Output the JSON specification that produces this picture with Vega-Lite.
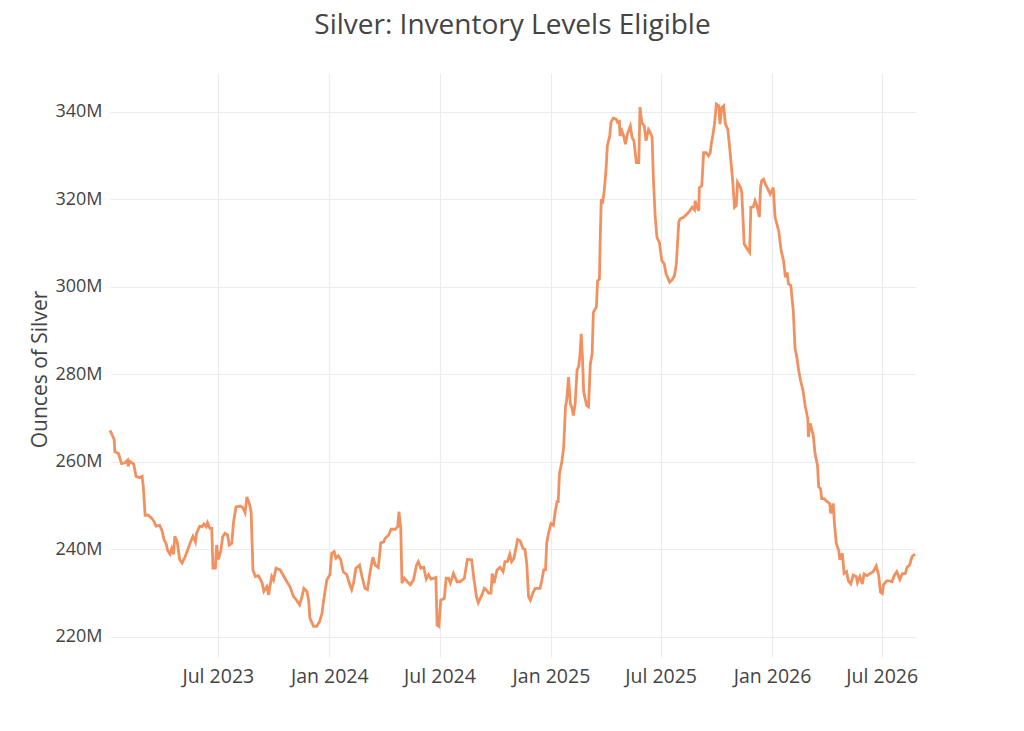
{
 "$schema": "https://vega.github.io/schema/vega-lite/v6.json",
 "width": 805, "height": 584,
 "autosize": {"type": "none"},
 "padding": {"left": 110, "top": 73, "right": 109, "bottom": 74},
 "background": "white",
 "title": {"text": "Silver: Inventory Levels Eligible", "font": "Open Sans", "fontSize": 28, "fontWeight": "normal", "color": "#444444", "anchor": "middle", "baseline": "alphabetic", "offset": 11},
 "config": {"view": {"stroke": null}, "axis": {"labelFont": "Open Sans", "titleFont": "Open Sans", "labelColor": "#444444", "titleColor": "#444444", "gridColor": "#ebecef", "gridWidth": 1.2, "domain": false, "ticks": false}},
 "data": {"values": [
{"date":"2023-01-04","ounces":267200000},{"date":"2023-01-09","ounces":265700000},{"date":"2023-01-11","ounces":265100000},{"date":"2023-01-12","ounces":262300000},{"date":"2023-01-18","ounces":261900000},{"date":"2023-01-23","ounces":259600000},{"date":"2023-01-29","ounces":259800000},{"date":"2023-02-02","ounces":260400000},{"date":"2023-02-03","ounces":259000000},{"date":"2023-02-06","ounces":260100000},{"date":"2023-02-12","ounces":259500000},{"date":"2023-02-16","ounces":256700000},{"date":"2023-02-22","ounces":256400000},{"date":"2023-02-26","ounces":256700000},{"date":"2023-02-28","ounces":254300000},{"date":"2023-03-03","ounces":247800000},{"date":"2023-03-08","ounces":247800000},{"date":"2023-03-14","ounces":247100000},{"date":"2023-03-18","ounces":246300000},{"date":"2023-03-21","ounces":245300000},{"date":"2023-03-27","ounces":245500000},{"date":"2023-03-31","ounces":244200000},{"date":"2023-04-03","ounces":242300000},{"date":"2023-04-07","ounces":241200000},{"date":"2023-04-09","ounces":239800000},{"date":"2023-04-13","ounces":238900000},{"date":"2023-04-16","ounces":240200000},{"date":"2023-04-19","ounces":238900000},{"date":"2023-04-21","ounces":243000000},{"date":"2023-04-25","ounces":241700000},{"date":"2023-04-29","ounces":237700000},{"date":"2023-05-03","ounces":236900000},{"date":"2023-05-08","ounces":238300000},{"date":"2023-05-13","ounces":240200000},{"date":"2023-05-17","ounces":241700000},{"date":"2023-05-21","ounces":243000000},{"date":"2023-05-25","ounces":241700000},{"date":"2023-05-27","ounces":243700000},{"date":"2023-06-01","ounces":245300000},{"date":"2023-06-05","ounces":245200000},{"date":"2023-06-08","ounces":245800000},{"date":"2023-06-12","ounces":245200000},{"date":"2023-06-14","ounces":246100000},{"date":"2023-06-18","ounces":244800000},{"date":"2023-06-21","ounces":244800000},{"date":"2023-06-23","ounces":235700000},{"date":"2023-06-27","ounces":235700000},{"date":"2023-06-29","ounces":241000000},{"date":"2023-07-02","ounces":237700000},{"date":"2023-07-06","ounces":239700000},{"date":"2023-07-09","ounces":242900000},{"date":"2023-07-13","ounces":243700000},{"date":"2023-07-17","ounces":243300000},{"date":"2023-07-20","ounces":241000000},{"date":"2023-07-24","ounces":241400000},{"date":"2023-07-27","ounces":246300000},{"date":"2023-07-31","ounces":249700000},{"date":"2023-08-07","ounces":249900000},{"date":"2023-08-11","ounces":249600000},{"date":"2023-08-15","ounces":248400000},{"date":"2023-08-18","ounces":252000000},{"date":"2023-08-22","ounces":250500000},{"date":"2023-08-25","ounces":248600000},{"date":"2023-08-28","ounces":235300000},{"date":"2023-09-01","ounces":233800000},{"date":"2023-09-06","ounces":234000000},{"date":"2023-09-12","ounces":232400000},{"date":"2023-09-15","ounces":230400000},{"date":"2023-09-20","ounces":231500000},{"date":"2023-09-23","ounces":229600000},{"date":"2023-09-25","ounces":231500000},{"date":"2023-09-28","ounces":233800000},{"date":"2023-10-01","ounces":233000000},{"date":"2023-10-05","ounces":235700000},{"date":"2023-10-12","ounces":235300000},{"date":"2023-10-17","ounces":234100000},{"date":"2023-10-23","ounces":232600000},{"date":"2023-10-28","ounces":231500000},{"date":"2023-11-03","ounces":229200000},{"date":"2023-11-08","ounces":228400000},{"date":"2023-11-13","ounces":227300000},{"date":"2023-11-17","ounces":229200000},{"date":"2023-11-20","ounces":231100000},{"date":"2023-11-25","ounces":230400000},{"date":"2023-11-28","ounces":228400000},{"date":"2023-11-30","ounces":224300000},{"date":"2023-12-06","ounces":222400000},{"date":"2023-12-11","ounces":222400000},{"date":"2023-12-16","ounces":223500000},{"date":"2023-12-20","ounces":225400000},{"date":"2023-12-22","ounces":227700000},{"date":"2023-12-28","ounces":233000000},
{"date":"2024-01-02","ounces":234200000},{"date":"2024-01-05","ounces":239100000},{"date":"2024-01-09","ounces":239500000},{"date":"2024-01-12","ounces":238000000},{"date":"2024-01-16","ounces":238500000},{"date":"2024-01-20","ounces":237600000},{"date":"2024-01-24","ounces":234900000},{"date":"2024-01-30","ounces":234200000},{"date":"2024-02-03","ounces":232300000},{"date":"2024-02-07","ounces":230800000},{"date":"2024-02-10","ounces":232300000},{"date":"2024-02-14","ounces":235700000},{"date":"2024-02-20","ounces":236400000},{"date":"2024-02-24","ounces":233800000},{"date":"2024-02-29","ounces":231100000},{"date":"2024-03-04","ounces":230800000},{"date":"2024-03-09","ounces":235300000},{"date":"2024-03-13","ounces":238200000},{"date":"2024-03-17","ounces":236400000},{"date":"2024-03-22","ounces":235900000},{"date":"2024-03-26","ounces":241500000},{"date":"2024-03-31","ounces":241700000},{"date":"2024-04-02","ounces":242500000},{"date":"2024-04-08","ounces":243300000},{"date":"2024-04-12","ounces":244600000},{"date":"2024-04-19","ounces":244600000},{"date":"2024-04-23","ounces":245200000},{"date":"2024-04-25","ounces":248600000},{"date":"2024-04-28","ounces":244800000},{"date":"2024-04-30","ounces":232300000},{"date":"2024-05-04","ounces":233400000},{"date":"2024-05-09","ounces":232600000},{"date":"2024-05-14","ounces":231900000},{"date":"2024-05-19","ounces":233000000},{"date":"2024-05-24","ounces":236400000},{"date":"2024-05-27","ounces":237200000},{"date":"2024-05-31","ounces":235700000},{"date":"2024-06-05","ounces":235900000},{"date":"2024-06-09","ounces":233200000},{"date":"2024-06-13","ounces":234200000},{"date":"2024-06-17","ounces":233200000},{"date":"2024-06-21","ounces":233400000},{"date":"2024-06-25","ounces":233600000},{"date":"2024-06-27","ounces":222700000},{"date":"2024-06-30","ounces":222400000},{"date":"2024-07-03","ounces":228400000},{"date":"2024-07-09","ounces":228800000},{"date":"2024-07-12","ounces":233400000},{"date":"2024-07-16","ounces":233400000},{"date":"2024-07-19","ounces":232300000},{"date":"2024-07-24","ounces":234500000},{"date":"2024-07-30","ounces":232600000},{"date":"2024-08-04","ounces":232600000},{"date":"2024-08-11","ounces":233400000},{"date":"2024-08-16","ounces":237700000},{"date":"2024-08-23","ounces":237600000},{"date":"2024-08-27","ounces":233000000},{"date":"2024-08-31","ounces":229200000},{"date":"2024-09-03","ounces":227800000},{"date":"2024-09-09","ounces":229600000},{"date":"2024-09-13","ounces":231100000},{"date":"2024-09-16","ounces":230800000},{"date":"2024-09-20","ounces":230000000},{"date":"2024-09-24","ounces":230000000},{"date":"2024-09-26","ounces":234500000},{"date":"2024-09-29","ounces":232300000},{"date":"2024-10-04","ounces":235300000},{"date":"2024-10-09","ounces":235900000},{"date":"2024-10-14","ounces":234900000},{"date":"2024-10-17","ounces":237200000},{"date":"2024-10-21","ounces":237200000},{"date":"2024-10-25","ounces":238900000},{"date":"2024-10-28","ounces":237200000},{"date":"2024-11-01","ounces":238000000},{"date":"2024-11-07","ounces":242300000},{"date":"2024-11-11","ounces":242000000},{"date":"2024-11-16","ounces":240200000},{"date":"2024-11-19","ounces":240000000},{"date":"2024-11-22","ounces":236800000},{"date":"2024-11-25","ounces":229200000},{"date":"2024-11-28","ounces":228400000},{"date":"2024-12-02","ounces":230000000},{"date":"2024-12-06","ounces":231100000},{"date":"2024-12-14","ounces":231100000},{"date":"2024-12-17","ounces":233000000},{"date":"2024-12-20","ounces":235300000},{"date":"2024-12-23","ounces":235300000},{"date":"2024-12-25","ounces":241400000},{"date":"2024-12-28","ounces":243700000},
{"date":"2025-01-01","ounces":245900000},{"date":"2025-01-05","ounces":245500000},{"date":"2025-01-08","ounces":248600000},{"date":"2025-01-11","ounces":250900000},{"date":"2025-01-13","ounces":250900000},{"date":"2025-01-15","ounces":257300000},{"date":"2025-01-19","ounces":260000000},{"date":"2025-01-22","ounces":263400000},{"date":"2025-01-25","ounces":272600000},{"date":"2025-01-27","ounces":274100000},{"date":"2025-01-30","ounces":279400000},{"date":"2025-02-02","ounces":273300000},{"date":"2025-02-05","ounces":272200000},{"date":"2025-02-07","ounces":270600000},{"date":"2025-02-10","ounces":273300000},{"date":"2025-02-13","ounces":280900000},{"date":"2025-02-16","ounces":282000000},{"date":"2025-02-18","ounces":284700000},{"date":"2025-02-20","ounces":289300000},{"date":"2025-02-22","ounces":283900000},{"date":"2025-02-24","ounces":276000000},{"date":"2025-02-27","ounces":274100000},{"date":"2025-03-01","ounces":272900000},{"date":"2025-03-04","ounces":272600000},{"date":"2025-03-07","ounces":282400000},{"date":"2025-03-10","ounces":284700000},{"date":"2025-03-12","ounces":294200000},{"date":"2025-03-17","ounces":295400000},{"date":"2025-03-19","ounces":301400000},{"date":"2025-03-22","ounces":301800000},{"date":"2025-03-23","ounces":309100000},{"date":"2025-03-25","ounces":320100000},{"date":"2025-03-27","ounces":319000000},{"date":"2025-03-30","ounces":322000000},{"date":"2025-04-02","ounces":326900000},{"date":"2025-04-04","ounces":332200000},{"date":"2025-04-08","ounces":334500000},{"date":"2025-04-10","ounces":337600000},{"date":"2025-04-14","ounces":338600000},{"date":"2025-04-19","ounces":338300000},{"date":"2025-04-21","ounces":337600000},{"date":"2025-04-24","ounces":337800000},{"date":"2025-04-25","ounces":334500000},{"date":"2025-04-28","ounces":335700000},{"date":"2025-05-01","ounces":334500000},{"date":"2025-05-04","ounces":332600000},{"date":"2025-05-07","ounces":334900000},{"date":"2025-05-12","ounces":336800000},{"date":"2025-05-15","ounces":334200000},{"date":"2025-05-18","ounces":333400000},{"date":"2025-05-22","ounces":328400000},{"date":"2025-05-26","ounces":328400000},{"date":"2025-05-28","ounces":341100000},{"date":"2025-05-31","ounces":337600000},{"date":"2025-06-04","ounces":336800000},{"date":"2025-06-07","ounces":333400000},{"date":"2025-06-11","ounces":336000000},{"date":"2025-06-14","ounces":335300000},{"date":"2025-06-17","ounces":334200000},{"date":"2025-06-19","ounces":325000000},{"date":"2025-06-22","ounces":316300000},{"date":"2025-06-25","ounces":311300000},{"date":"2025-06-29","ounces":310200000},{"date":"2025-07-03","ounces":306000000},{"date":"2025-07-07","ounces":305300000},{"date":"2025-07-10","ounces":303000000},{"date":"2025-07-16","ounces":301100000},{"date":"2025-07-20","ounces":301600000},{"date":"2025-07-24","ounces":302600000},{"date":"2025-07-27","ounces":305300000},{"date":"2025-07-31","ounces":314800000},{"date":"2025-08-02","ounces":315500000},{"date":"2025-08-08","ounces":315900000},{"date":"2025-08-14","ounces":316700000},{"date":"2025-08-18","ounces":317400000},{"date":"2025-08-22","ounces":318200000},{"date":"2025-08-26","ounces":317600000},{"date":"2025-08-27","ounces":319700000},{"date":"2025-08-30","ounces":318200000},{"date":"2025-09-02","ounces":317400000},{"date":"2025-09-03","ounces":322700000},{"date":"2025-09-07","ounces":323100000},{"date":"2025-09-10","ounces":330700000},{"date":"2025-09-14","ounces":330700000},{"date":"2025-09-18","ounces":330000000},{"date":"2025-09-21","ounces":330700000},{"date":"2025-09-23","ounces":333000000},{"date":"2025-09-25","ounces":334500000},{"date":"2025-09-28","ounces":337200000},{"date":"2025-10-01","ounces":341800000},{"date":"2025-10-05","ounces":341400000},{"date":"2025-10-07","ounces":337200000},{"date":"2025-10-10","ounces":341000000},{"date":"2025-10-13","ounces":341400000},{"date":"2025-10-16","ounces":337200000},{"date":"2025-10-20","ounces":336000000},{"date":"2025-10-24","ounces":330400000},{"date":"2025-10-28","ounces":324300000},{"date":"2025-10-31","ounces":318200000},{"date":"2025-11-03","ounces":318600000},{"date":"2025-11-05","ounces":323900000},{"date":"2025-11-10","ounces":322700000},{"date":"2025-11-12","ounces":321600000},{"date":"2025-11-16","ounces":309800000},{"date":"2025-11-21","ounces":308700000},{"date":"2025-11-25","ounces":307900000},{"date":"2025-11-27","ounces":318200000},{"date":"2025-12-01","ounces":318300000},{"date":"2025-12-04","ounces":319700000},{"date":"2025-12-07","ounces":318600000},{"date":"2025-12-11","ounces":316000000},{"date":"2025-12-13","ounces":322700000},{"date":"2025-12-15","ounces":324300000},{"date":"2025-12-18","ounces":324600000},{"date":"2025-12-21","ounces":323500000},{"date":"2025-12-25","ounces":322400000},{"date":"2025-12-29","ounces":321200000},
{"date":"2026-01-03","ounces":322700000},{"date":"2026-01-06","ounces":315900000},{"date":"2026-01-12","ounces":312800000},{"date":"2026-01-16","ounces":308300000},{"date":"2026-01-20","ounces":306000000},{"date":"2026-01-23","ounces":302200000},{"date":"2026-01-26","ounces":303300000},{"date":"2026-01-28","ounces":300700000},{"date":"2026-02-01","ounces":300300000},{"date":"2026-02-05","ounces":294600000},{"date":"2026-02-08","ounces":285900000},{"date":"2026-02-11","ounces":283900000},{"date":"2026-02-14","ounces":280900000},{"date":"2026-02-17","ounces":278600000},{"date":"2026-02-21","ounces":276400000},{"date":"2026-02-25","ounces":272600000},{"date":"2026-03-01","ounces":269900000},{"date":"2026-03-02","ounces":265700000},{"date":"2026-03-05","ounces":268800000},{"date":"2026-03-10","ounces":266100000},{"date":"2026-03-13","ounces":261900000},{"date":"2026-03-17","ounces":259200000},{"date":"2026-03-19","ounces":254300000},{"date":"2026-03-22","ounces":253900000},{"date":"2026-03-24","ounces":251600000},{"date":"2026-03-28","ounces":251600000},{"date":"2026-04-02","ounces":250900000},{"date":"2026-04-06","ounces":250500000},{"date":"2026-04-08","ounces":248200000},{"date":"2026-04-12","ounces":250500000},{"date":"2026-04-14","ounces":245900000},{"date":"2026-04-17","ounces":241400000},{"date":"2026-04-21","ounces":239800000},{"date":"2026-04-23","ounces":237600000},{"date":"2026-04-27","ounces":239100000},{"date":"2026-04-30","ounces":234500000},{"date":"2026-05-04","ounces":234900000},{"date":"2026-05-07","ounces":232800000},{"date":"2026-05-11","ounces":232100000},{"date":"2026-05-15","ounces":234100000},{"date":"2026-05-20","ounces":233800000},{"date":"2026-05-22","ounces":232400000},{"date":"2026-05-26","ounces":233800000},{"date":"2026-05-30","ounces":232100000},{"date":"2026-06-02","ounces":234400000},{"date":"2026-06-07","ounces":234000000},{"date":"2026-06-11","ounces":234400000},{"date":"2026-06-17","ounces":234900000},{"date":"2026-06-22","ounces":236200000},{"date":"2026-06-26","ounces":234100000},{"date":"2026-06-29","ounces":230200000},{"date":"2026-07-02","ounces":229900000},{"date":"2026-07-04","ounces":231900000},{"date":"2026-07-09","ounces":232800000},{"date":"2026-07-14","ounces":232800000},{"date":"2026-07-18","ounces":232600000},{"date":"2026-07-22","ounces":234100000},{"date":"2026-07-26","ounces":234900000},{"date":"2026-07-31","ounces":233100000},{"date":"2026-08-04","ounces":234400000},{"date":"2026-08-09","ounces":234500000},{"date":"2026-08-12","ounces":235900000},{"date":"2026-08-16","ounces":236400000},{"date":"2026-08-20","ounces":238300000},{"date":"2026-08-23","ounces":238700000},{"date":"2026-08-25","ounces":238900000}
 ]},
 "mark": {"type": "line", "color": "#f29160", "strokeWidth": 2.8, "interpolate": "linear"},
 "encoding": {
  "x": {"field": "date", "type": "temporal", "scale": {"type": "utc", "nice": false},
        "axis": {"title": null, "format": "%b %Y", "tickCount": {"interval": "month", "step": 6}, "labelFontSize": 19.5, "labelPadding": 10, "labelFlush": false, "labelOverlap": false}},
  "y": {"field": "ounces", "type": "quantitative", "scale": {"domain": [215400000, 348900000], "nice": false, "zero": false},
        "axis": {"title": "Ounces of Silver", "format": "~s", "values": [220000000, 240000000, 260000000, 280000000, 300000000, 320000000, 340000000], "labelFontSize": 18, "labelPadding": 8, "titleFontSize": 21, "titleFontWeight": "normal", "titleX": -70, "titleY": 296, "titleAngle": 270, "titleAlign": "center", "titleBaseline": "middle"}}
 }
}
